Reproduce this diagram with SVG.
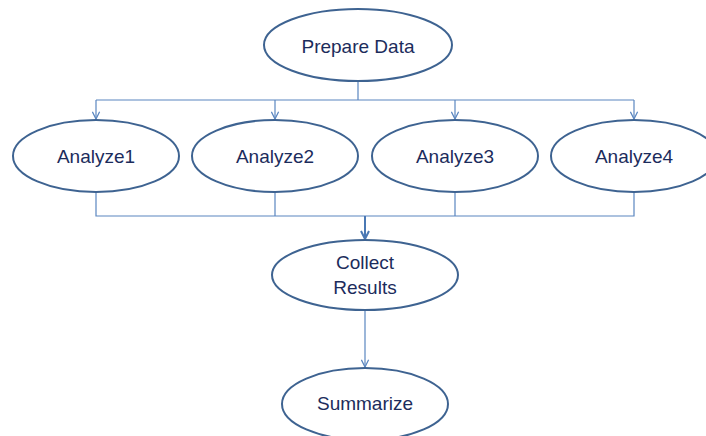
<svg xmlns="http://www.w3.org/2000/svg" width="706" height="436" viewBox="0 0 706 436">
  <style>
    .node ellipse { fill: #ffffff; stroke: #3e6391; stroke-width: 2; }
    .node text { font-family: "Liberation Sans", Arial, sans-serif; font-size: 19px; fill: #1c2c5c; text-anchor: middle; }
    .wire { fill: none; stroke: #5a86c0; stroke-width: 1.2; }
    .wire.main { stroke: #4a78b4; stroke-width: 2; }
  </style>
  <defs>
    <marker id="vee" viewBox="0 0 10 10" refX="9" refY="5" markerWidth="9" markerHeight="9" markerUnits="userSpaceOnUse" orient="auto">
      <path d="M1,1 L9,5 L1,9" fill="none" stroke="#5a86c0" stroke-width="1.4"/>
    </marker>
    <marker id="vee-bold" viewBox="0 0 10 10" refX="9" refY="5" markerWidth="10" markerHeight="10" markerUnits="userSpaceOnUse" orient="auto">
      <path d="M1,1 L9,5 L1,9" fill="none" stroke="#4a78b4" stroke-width="2"/>
    </marker>
  </defs>
  <rect width="706" height="436" fill="#ffffff"/>

  <g id="connectors">
    <!-- fan-out from Prepare Data -->
    <path class="wire" d="M358,82 V100 M96,100 H634"/>
    <path class="wire" d="M96,100 V119" marker-end="url(#vee)"/>
    <path class="wire" d="M275,100 V119" marker-end="url(#vee)"/>
    <path class="wire" d="M455,100 V119" marker-end="url(#vee)"/>
    <path class="wire" d="M634,100 V119" marker-end="url(#vee)"/>
    <!-- fan-in to Collect Results -->
    <path class="wire" d="M96,192 V216 H634 V192 M275,192 V216 M455,192 V216"/>
    <path class="wire main" d="M365,216 V239" marker-end="url(#vee-bold)"/>
    <!-- Collect Results to Summarize -->
    <path class="wire" d="M365,310 V367" marker-end="url(#vee)"/>
  </g>

  <g id="prepare-data" class="node">
    <ellipse cx="358" cy="45" rx="94" ry="36"/>
    <text x="358" y="53">Prepare Data</text>
  </g>
  <g id="analyze1" class="node">
    <ellipse cx="96" cy="156" rx="83" ry="36"/>
    <text x="96" y="163">Analyze1</text>
  </g>
  <g id="analyze2" class="node">
    <ellipse cx="275" cy="156" rx="83" ry="36"/>
    <text x="275" y="163">Analyze2</text>
  </g>
  <g id="analyze3" class="node">
    <ellipse cx="455" cy="156" rx="83" ry="36"/>
    <text x="455" y="163">Analyze3</text>
  </g>
  <g id="analyze4" class="node">
    <ellipse cx="634" cy="156" rx="83" ry="36"/>
    <text x="634" y="163">Analyze4</text>
  </g>
  <g id="collect-results" class="node">
    <ellipse cx="365" cy="275" rx="93" ry="35"/>
    <text x="365" y="269">Collect</text>
    <text x="365" y="294">Results</text>
  </g>
  <g id="summarize" class="node">
    <ellipse cx="365" cy="404" rx="83" ry="36"/>
    <text x="365" y="410">Summarize</text>
  </g>
</svg>
